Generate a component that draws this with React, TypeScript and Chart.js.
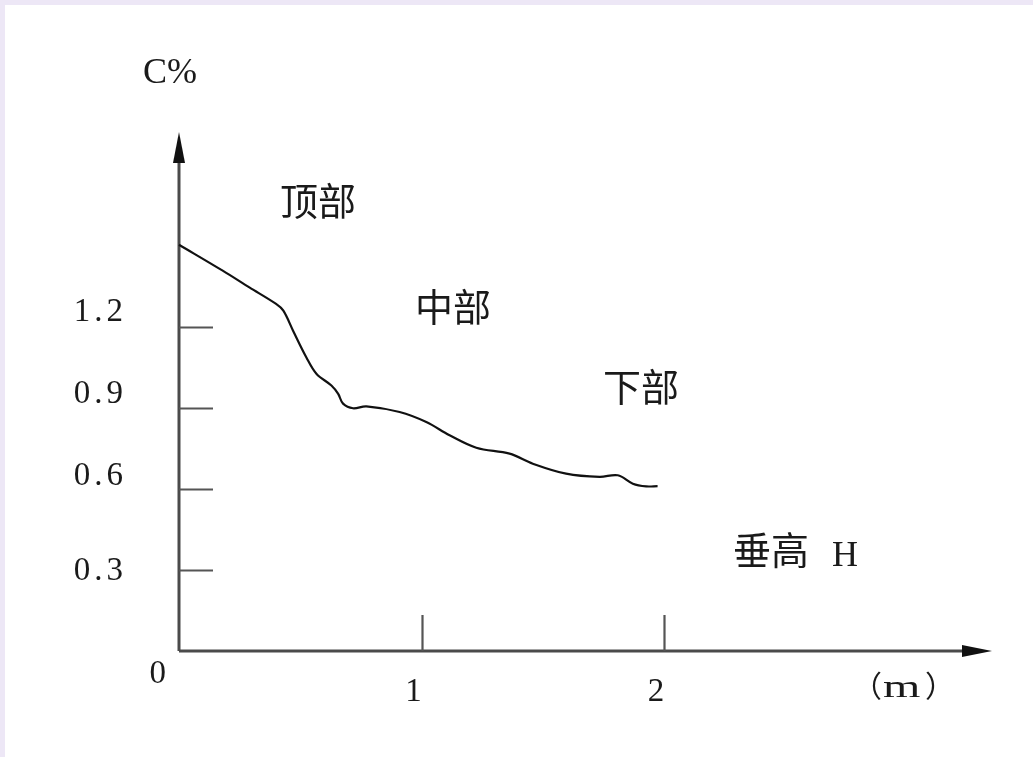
import React, { useEffect, useRef } from "react";
import { Chart, registerables } from "chart.js";

Chart.register(...registerables);

// Data: vertical height H (m) vs concentration C (%)
const heights = [0, 0.18, 0.29, 0.40, 0.43, 0.47, 0.525, 0.567, 0.628, 0.656, 0.676, 0.717, 0.772, 0.909, 1.019, 1.115, 1.225, 1.362, 1.458, 1.595, 1.733, 1.808, 1.870, 1.925, 1.972];
const concentration = [1.503, 1.407, 1.345, 1.284, 1.259, 1.185, 1.086, 1.025, 0.982, 0.951, 0.915, 0.898, 0.905, 0.884, 0.847, 0.798, 0.752, 0.730, 0.693, 0.656, 0.644, 0.650, 0.619, 0.609, 0.610];
const yTicks = [0.3, 0.6, 0.9, 1.2];
const yTickLabels = ["0.3", "0.6", "0.9", "1.2"];
const xTicks = [1, 2];
const xTickLabels = ["1", "2"];
const regionLabels = ["顶部", "中部", "下部"];
const yAxisTitle = "C%";
const xAxisTitle = "垂高 H";
const xUnit = "（m）";

const X_MAX = 3.35;
const Y_MAX = 1.92;

// style / layout (not data)
const regionPos = [
  { x: 0.573, y: 1.665 },
  { x: 1.129, y: 1.276 },
  { x: 1.904, y: 0.977 },
];
const yLabelBaselineDy = [10, -4, -5, -6];

const SERIF = '"Liberation Serif", "DejaVu Serif", serif';
const CJK = '"Noto Sans CJK SC", "Noto Sans", sans-serif';

const axesPlugin = {
  id: "customAxes",
  beforeDraw(chart: any) {
    const ctx = chart.ctx;
    ctx.save();
    ctx.fillStyle = "#ffffff";
    ctx.fillRect(0, 0, chart.width, chart.height);
    ctx.fillStyle = "#ede7f6";
    ctx.fillRect(0, 0, chart.width, 5);
    ctx.fillRect(0, 0, 5, chart.height);
    ctx.restore();
  },
  beforeDatasetsDraw(chart: any) {
    const ctx = chart.ctx;
    const xs = chart.scales.x;
    const ys = chart.scales.y;
    const x0 = xs.getPixelForValue(0);
    const y0 = ys.getPixelForValue(0);
    const xEnd = xs.getPixelForValue(X_MAX);
    const yEnd = ys.getPixelForValue(Y_MAX);
    ctx.save();
    ctx.strokeStyle = "#4a4a4a";
    ctx.lineWidth = 3;
    ctx.beginPath();
    ctx.moveTo(x0, y0);
    ctx.lineTo(xEnd - 20, y0);
    ctx.moveTo(x0, y0);
    ctx.lineTo(x0, yEnd + 20);
    ctx.stroke();
    ctx.fillStyle = "#111";
    ctx.beginPath();
    ctx.moveTo(xEnd, y0);
    ctx.lineTo(xEnd - 30, y0 - 6);
    ctx.lineTo(xEnd - 30, y0 + 6);
    ctx.closePath();
    ctx.fill();
    ctx.beginPath();
    ctx.moveTo(x0, yEnd);
    ctx.lineTo(x0 - 6, yEnd + 31);
    ctx.lineTo(x0 + 6, yEnd + 31);
    ctx.closePath();
    ctx.fill();
    ctx.strokeStyle = "#555";
    ctx.lineWidth = 2.2;
    ctx.beginPath();
    yTicks.forEach((v) => {
      const py = Math.round(ys.getPixelForValue(v)) + 0.5;
      ctx.moveTo(x0, py);
      ctx.lineTo(x0 + 34, py);
    });
    xTicks.forEach((v) => {
      const px = Math.round(xs.getPixelForValue(v)) + 0.5;
      ctx.moveTo(px, y0);
      ctx.lineTo(px, y0 - 36);
    });
    ctx.stroke();
    ctx.restore();
  },
  afterDraw(chart: any) {
    const ctx = chart.ctx;
    const xs = chart.scales.x;
    const ys = chart.scales.y;
    const x0 = xs.getPixelForValue(0);
    const y0 = ys.getPixelForValue(0);
    ctx.save();
    ctx.fillStyle = "#1a1a1a";
    ctx.font = `33px ${SERIF}`;
    (ctx as any).letterSpacing = "4px";
    ctx.textAlign = "right";
    ctx.textBaseline = "alphabetic";
    yTicks.forEach((v, i) => {
      ctx.fillText(yTickLabels[i], x0 - 52, ys.getPixelForValue(v) + yLabelBaselineDy[i]);
    });
    (ctx as any).letterSpacing = "0px";
    ctx.fillText("0", x0 - 13, y0 + 32);
    xTicks.forEach((v, i) => {
      ctx.fillText(xTickLabels[i], xs.getPixelForValue(v), y0 + 50);
    });
    ctx.textAlign = "left";
    ctx.font = `36px ${SERIF}`;
    ctx.fillText(yAxisTitle, x0 - 36, 83);
    // unit: full-width parentheses (CJK) around a wide serif "m"
    {
      const chars = Array.from(xUnit);
      const uy = y0 + 46;
      ctx.font = `30px ${CJK}`;
      ctx.fillText(chars[0], 852, uy);
      ctx.save();
      ctx.translate(883, uy);
      ctx.scale(1.55, 1);
      ctx.font = `31px ${SERIF}`;
      ctx.fillText(chars[1], 0, 0);
      ctx.restore();
      ctx.font = `30px ${CJK}`;
      ctx.fillText(chars[2], 925, uy);
    }
    ctx.font = `38px ${CJK}`;
    ctx.textAlign = "center";
    ctx.textBaseline = "middle";
    regionLabels.forEach((t, i) => {
      ctx.fillText(t, xs.getPixelForValue(regionPos[i].x), ys.getPixelForValue(regionPos[i].y));
    });
    ctx.textAlign = "left";
    ctx.font = `38px ${CJK}`;
    const parts = xAxisTitle.split(" ");
    const tx = xs.getPixelForValue(2.283);
    const ty = ys.getPixelForValue(0.374);
    ctx.fillText(parts[0], tx, ty);
    const w = ctx.measureText(parts[0]).width;
    ctx.font = `36px ${SERIF}`;
    ctx.textBaseline = "alphabetic";
    ctx.fillText(parts[1], tx + w + 23, 566);
    ctx.restore();
  },
};

export default function App() {
  const ref = useRef<HTMLCanvasElement | null>(null);
  useEffect(() => {
    document.body.style.margin = "0";
    const canvas = ref.current;
    if (!canvas) return;
    const chart = new Chart(canvas, {
      type: "line",
      data: {
        datasets: [
          {
            data: heights.map((h, i) => ({ x: h, y: concentration[i] })),
            borderColor: "#111",
            borderWidth: 2.2,
            pointRadius: 0,
            tension: 0.35,
            fill: false,
            clip: false as any,
          },
        ],
      },
      options: {
        animation: false,
        responsive: false,
        devicePixelRatio: 1,
        layout: { padding: { left: 179, right: 41, top: 132, bottom: 106 } },
        plugins: { legend: { display: false }, tooltip: { enabled: false } },
        scales: {
          x: { type: "linear", min: 0, max: X_MAX, display: false },
          y: { type: "linear", min: 0, max: Y_MAX, display: false },
        },
      },
      plugins: [axesPlugin],
    });
    return () => chart.destroy();
  }, []);
  return (
    <div style={{ width: 1033, height: 757 }}>
      <canvas ref={ref} width={1033} height={757} style={{ display: "block" }} />
    </div>
  );
}
